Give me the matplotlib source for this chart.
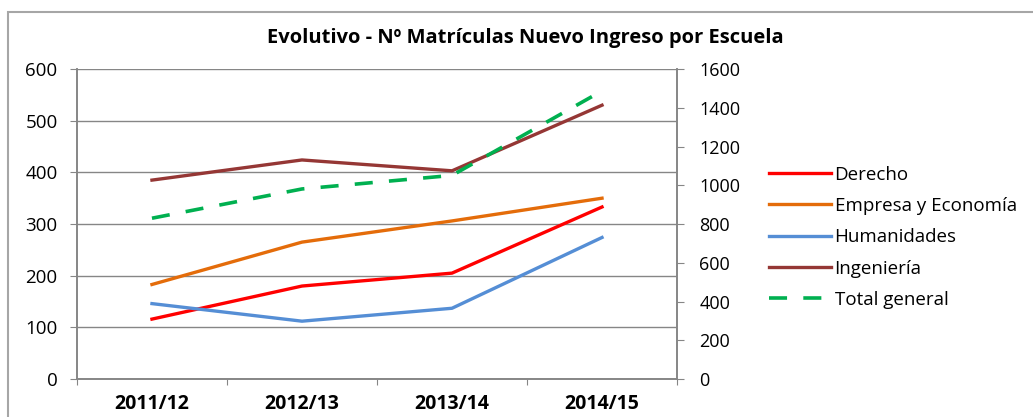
import numpy as np
import matplotlib.pyplot as plt
from matplotlib.patches import Rectangle

plt.rcParams['font.family'] = ['Open Sans', 'DejaVu Sans']

# Datos
cursos = ['2011/12', '2012/13', '2013/14', '2014/15']
derecho = [116, 180, 205, 333]
empresa = [183, 265, 306, 350]
humanidades = [146, 112, 137, 274]
ingenieria = [385, 424, 403, 530]
total_general = [830, 981, 1051, 1487]

fig = plt.figure(figsize=(10.33, 4.17), dpi=100)
ax = fig.add_axes([0.0745, 0.091, 0.5809, 0.7435])
ax2 = ax.twinx()

x = np.arange(len(cursos))
l1, = ax.plot(x, derecho, color='#FF0000', lw=2.4, label='Derecho')
l2, = ax.plot(x, empresa, color='#E46C0A', lw=2.4, label='Empresa y Economía')
l3, = ax.plot(x, humanidades, color='#558ED5', lw=2.4, label='Humanidades')
l4, = ax.plot(x, ingenieria, color='#953735', lw=2.4, label='Ingeniería')
l5, = ax2.plot(x, total_general, color='#00B050', lw=2.6, ls=(0, (5, 4.5)),
               label='Total general')

ax.set_xlim(-0.5, len(cursos) - 0.5)
ax.set_ylim(0, 600)
ax.set_yticks(np.arange(0, 601, 100))
ax2.set_ylim(0, 1600)
ax2.set_yticks(np.arange(0, 1601, 200))

# Ticks del eje x en los límites entre categorías
ax.set_xticks(np.arange(-0.5, len(cursos)), minor=False)
ax.set_xticklabels([])
ax.set_xticks(x, minor=True)
ax.set_xticklabels(cursos, minor=True, fontsize=14, fontweight='bold')
ax.tick_params(axis='x', which='minor', length=0, pad=11)
ax.tick_params(axis='x', which='major', length=4, color='#868686')
ax.tick_params(axis='y', length=5, color='#868686', labelsize=13.5, pad=9)
ax2.tick_params(axis='y', length=5, color='#868686', labelsize=13, pad=11)

ax.grid(axis='y', color='#868686', lw=1)
ax.set_axisbelow(True)
for a in (ax, ax2):
    a.spines['top'].set_visible(False)
    for s in ('left', 'right', 'bottom'):
        a.spines[s].set_color('#868686')
        a.spines[s].set_linewidth(1.2)

fig.text(0.509, 0.909, 'Evolutivo - Nº Matrículas Nuevo Ingreso por Escuela',
         ha='center', va='center', fontsize=14.5, fontweight='bold')

fig.legend(handles=[l1, l2, l3, l4, l5], loc='upper left',
           bbox_to_anchor=(0.728, 0.643), frameon=False, fontsize=13.5,
           handlelength=3.3, labelspacing=0.71, handletextpad=0.2)

fig.patches.append(Rectangle((0.008, -0.05), 1.2, 1.021, transform=fig.transFigure,
                             fill=False, edgecolor='#A6A6A6', lw=1.5))

plt.savefig('out.png', dpi=100)
